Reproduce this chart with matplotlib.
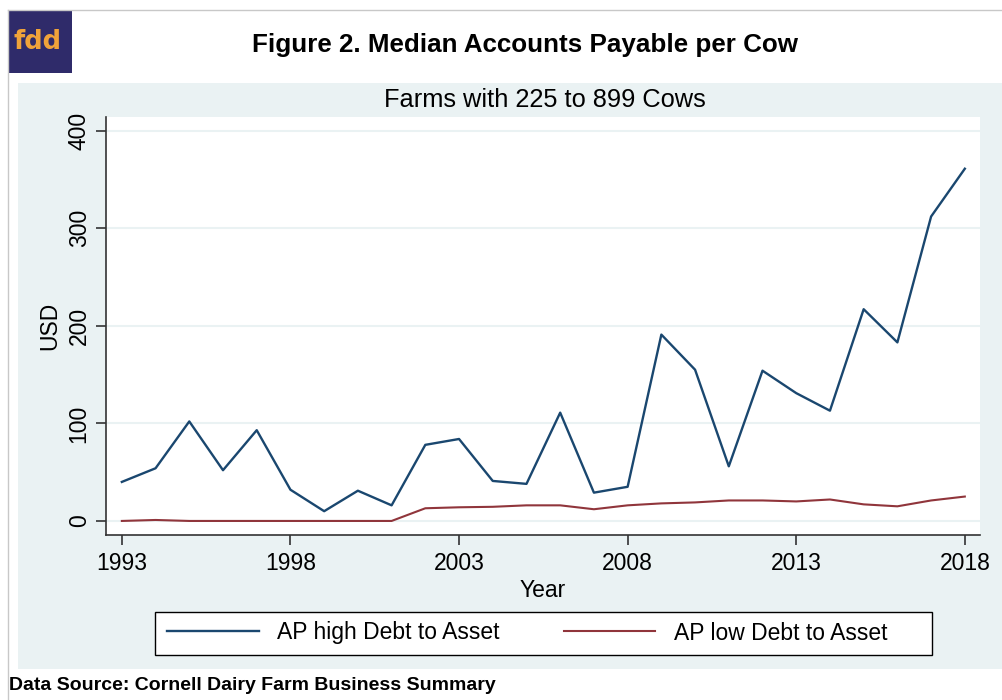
import matplotlib
matplotlib.use('Agg')
from matplotlib import pyplot as plt
from matplotlib.patches import Rectangle
from matplotlib.lines import Line2D

W, H = 1002, 700

years = list(range(1993, 2019))
ap_high = [40, 54, 102, 52, 93, 32, 10, 31, 16, 78, 84, 41, 38,
           111, 29, 35, 191, 155, 56, 154, 131, 113, 217, 183, 312, 361]
ap_low = [0, 1, 0, 0, 0, 0, 0, 0, 0, 13, 14, 14.5, 16,
          16, 12, 16, 18, 19, 21, 21, 20, 22, 17, 15, 21, 25]
x_ticks = [1993, 1998, 2003, 2008, 2013, 2018]
y_ticks = [0, 100, 200, 300, 400]

BLUE = '#1a476f'
RED = '#90353b'
PANEL = '#eaf2f3'

plt.rcParams['font.family'] = ['Liberation Sans', 'DejaVu Sans']


def fx(px):
    return px / W


def fy(py):
    return 1 - py / H


fig = plt.figure(figsize=(W / 100, H / 100), dpi=100)
fig.patch.set_facecolor('white')

# outer frame lines
fig.add_artist(Line2D([fx(8), 1], [fy(10), fy(10)], color='#c8c8c8', lw=1))
fig.add_artist(Line2D([fx(8), fx(8)], [fy(10), 0], color='#c8c8c8', lw=1))

# light panel behind the chart
fig.add_artist(Rectangle((fx(18), fy(669)), fx(1002) - fx(18), fy(83) - fy(669),
                         facecolor=PANEL, edgecolor='none', transform=fig.transFigure, zorder=0))

# logo
fig.add_artist(Rectangle((fx(8), fy(73)), fx(72) - fx(8), fy(10) - fy(73),
                         facecolor='#2f2b6a', edgecolor='none', transform=fig.transFigure))
fig.text(fx(37), fy(42), 'fdd', color='#f0a33a', fontsize=18.5, fontweight='bold',
         ha='center', va='center', family=['DejaVu Sans'])

fig.text(fx(525), fy(45), 'Figure 2. Median Accounts Payable per Cow', fontsize=18.7,
         fontweight='bold', ha='center', va='center')
fig.text(fx(545), fy(100), 'Farms with 225 to 899 Cows', fontsize=18.3,
         ha='center', va='center')

ax = fig.add_axes([fx(106), fy(535), fx(980) - fx(106), fy(117) - fy(535)])
ax.set_facecolor('white')
ax.plot(years, ap_high, color=BLUE, lw=1.7, label='AP high Debt to Asset')
ax.plot(years, ap_low, color=RED, lw=1.5, label='AP low Debt to Asset')

ax.set_xlim(1992.53, 2018.45)
ax.set_ylim(-14.4, 414)
ax.set_xticks(x_ticks)
ax.set_yticks(y_ticks)
ax.tick_params(axis='x', labelsize=16.5, length=7, width=1.2, color='#333333', pad=5)
ax.tick_params(axis='y', labelsize=16.5, length=7, width=1.2, color='#333333', pad=4,
               labelrotation=90)
for lab in ax.get_yticklabels():
    lab.set_va('center')
ax.yaxis.grid(True, color=PANEL, lw=1.5)
ax.set_axisbelow(True)
for side in ['top', 'right']:
    ax.spines[side].set_visible(False)
for side in ['left', 'bottom']:
    ax.spines[side].set_color('#333333')
    ax.spines[side].set_linewidth(1.2)

ax.set_xlabel('Year', fontsize=16.5, labelpad=3)
ax.set_ylabel('USD', fontsize=16.5, labelpad=5)

# legend box drawn by hand (Stata leaves extra room on the right)
fig.add_artist(Rectangle((fx(155), fy(655)), fx(932) - fx(155), fy(612) - fy(655),
                         facecolor='white', edgecolor='black', lw=1.0,
                         transform=fig.transFigure, zorder=2))
leg = fig.legend(loc='center left', bbox_to_anchor=(fx(167), fy(633)), ncol=2, fontsize=16.5,
                 frameon=False, handlelength=4, handletextpad=0.8, columnspacing=2.8,
                 borderpad=0, borderaxespad=0)
leg.set_zorder(3)

fig.text(fx(9), fy(686), 'Data Source: Cornell Dairy Farm Business Summary', fontsize=14,
         fontweight='bold', ha='left', va='center')

fig.savefig('out.png', dpi=100)
